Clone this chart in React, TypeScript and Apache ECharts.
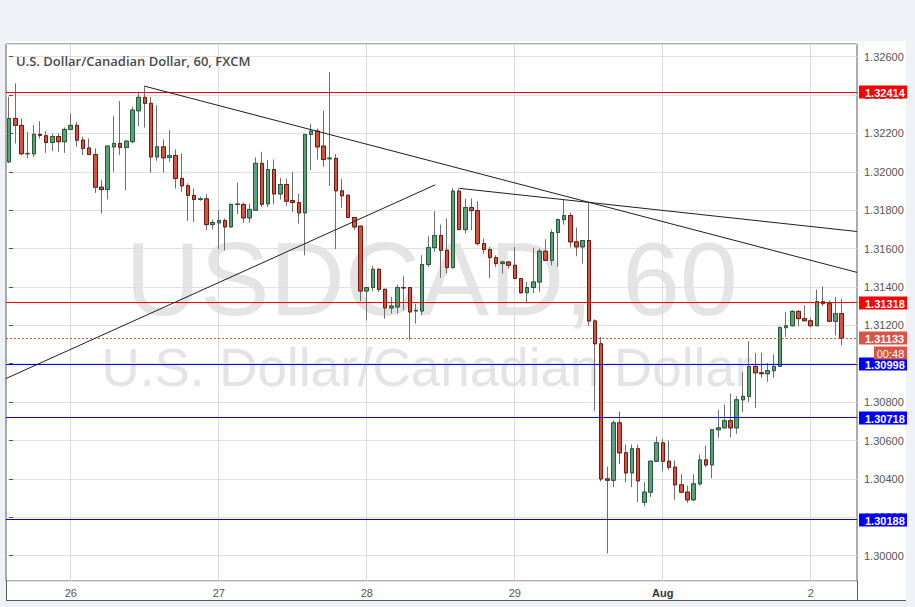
import React, { useEffect, useRef } from "react";
import * as echarts from "echarts";

// ---- data (hourly candles, USDCAD, FXCM) ----
const dayLabels = ["26", "27", "28", "29", "Aug", "2"];
const dayIndex = [10, 34, 58, 82, 106, 130];
const slotCount = 138;

const opens = [
  1.32052, 1.32278, 1.32242, 1.32094, 1.32094, 1.32195, 1.32188, 1.32153, 1.32184, 1.32157,
  1.32221, 1.32242, 1.32165, 1.32124, 1.32090, 1.31920, 1.31908, 1.32130, 1.32148, 1.32127,
  1.32157, 1.32318, 1.32388, 1.32357, 1.32078, 1.32130, 1.32075, 1.32085, 1.31965, 1.31927,
  1.31877, 1.31856, 1.31859, 1.31725, 1.31734, 1.31746, 1.31713, 1.31830, 1.31830, 1.31760,
  1.31800, 1.32044, 1.31833, 1.32012, 1.31885, 1.31934, 1.31850, 1.31840, 1.31786, 1.32195,
  1.32212, 1.32134, 1.32068, 1.32070, 1.31901, 1.31878, 1.31762, 1.31717, 1.31379, 1.31397,
  1.31492, 1.31388, 1.31291, 1.31296, 1.31397, 1.31397, 1.31275, 1.31275, 1.31517, 1.31605,
  1.31668, 1.31591, 1.31501, 1.31899, 1.31699, 1.31814, 1.31798, 1.31626, 1.31595, 1.31553,
  1.31522, 1.31530, 1.31513, 1.31444, 1.31370, 1.31397, 1.31426, 1.31586, 1.31539, 1.31684,
  1.31751, 1.31772, 1.31635, 1.31609, 1.31642, 1.31223, 1.31104, 1.30400, 1.30393, 1.30692,
  1.30536, 1.30431, 1.30557, 1.30278, 1.30331, 1.30492, 1.30588, 1.30492, 1.30461, 1.30369,
  1.30331, 1.30291, 1.30374, 1.30499, 1.30473, 1.30656, 1.30666, 1.30703, 1.30666, 1.30812,
  1.30830, 1.30986, 1.30953, 1.30948, 1.30964, 1.30986, 1.31188, 1.31198, 1.31273, 1.31235,
  1.31224, 1.31198, 1.31323, 1.31313, 1.31221, 1.31261,
];
const closes = [
  1.32278, 1.32242, 1.32094, 1.32096, 1.32195, 1.32190, 1.32153, 1.32184, 1.32157, 1.32221,
  1.32242, 1.32165, 1.32122, 1.32090, 1.31920, 1.31908, 1.32134, 1.32148, 1.32127, 1.32160,
  1.32322, 1.32388, 1.32357, 1.32078, 1.32130, 1.32073, 1.32085, 1.31965, 1.31927, 1.31877,
  1.31856, 1.31859, 1.31725, 1.31736, 1.31746, 1.31713, 1.31830, 1.31832, 1.31760, 1.31804,
  1.32044, 1.31831, 1.32012, 1.31885, 1.31934, 1.31847, 1.31840, 1.31786, 1.32195, 1.32212,
  1.32130, 1.32064, 1.32072, 1.31901, 1.31875, 1.31762, 1.31713, 1.31379, 1.31397, 1.31492,
  1.31388, 1.31291, 1.31301, 1.31397, 1.31395, 1.31270, 1.31278, 1.31517, 1.31605, 1.31668,
  1.31591, 1.31501, 1.31899, 1.31699, 1.31814, 1.31798, 1.31626, 1.31595, 1.31553, 1.31522,
  1.31530, 1.31513, 1.31444, 1.31370, 1.31397, 1.31426, 1.31586, 1.31539, 1.31684, 1.31751,
  1.31772, 1.31635, 1.31609, 1.31642, 1.31223, 1.31104, 1.30400, 1.30393, 1.30692, 1.30536,
  1.30431, 1.30557, 1.30390, 1.30331, 1.30492, 1.30588, 1.30492, 1.30461, 1.30369, 1.30331,
  1.30291, 1.30374, 1.30499, 1.30473, 1.30656, 1.30666, 1.30703, 1.30666, 1.30812, 1.30830,
  1.30986, 1.30953, 1.30948, 1.30964, 1.30986, 1.31188, 1.31198, 1.31273, 1.31235, 1.31224,
  1.31198, 1.31323, 1.31313, 1.31221, 1.31261, 1.31133,
];
const lows = [
  1.32045, 1.32148, 1.32087, 1.32070, 1.32078, 1.32174, 1.32099, 1.32108, 1.32104, 1.32099,
  1.32221, 1.32130, 1.32087, 1.32090, 1.31890, 1.31783, 1.31856, 1.32000, 1.32087, 1.31904,
  1.32148, 1.32238, 1.32231, 1.31995, 1.32057, 1.31995, 1.32052, 1.31913, 1.31896, 1.31744,
  1.31739, 1.31849, 1.31696, 1.31699, 1.31597, 1.31591, 1.31710, 1.31779, 1.31734, 1.31734,
  1.31797, 1.31817, 1.31817, 1.31831, 1.31856, 1.31823, 1.31791, 1.31731, 1.31565, 1.32009,
  1.32064, 1.32026, 1.31927, 1.31597, 1.31812, 1.31760, 1.31696, 1.31327, 1.31226, 1.31379,
  1.31374, 1.31235, 1.31261, 1.31261, 1.31278, 1.31125, 1.31209, 1.31252, 1.31504, 1.31583,
  1.31447, 1.31470, 1.31496, 1.31696, 1.31678, 1.31696, 1.31617, 1.31574, 1.31447, 1.31504,
  1.31470, 1.31496, 1.31440, 1.31365, 1.31318, 1.31369, 1.31374, 1.31536, 1.31513, 1.31504,
  1.31725, 1.31605, 1.31560, 1.31522, 1.31197, 1.30753, 1.30386, 1.30012, 1.30357, 1.30478,
  1.30383, 1.30357, 1.30278, 1.30256, 1.30305, 1.30487, 1.30440, 1.30447, 1.30291, 1.30325,
  1.30275, 1.30284, 1.30365, 1.30461, 1.30404, 1.30614, 1.30666, 1.30617, 1.30635, 1.30748,
  1.30800, 1.30770, 1.30927, 1.30906, 1.30927, 1.30983, 1.31139, 1.31195, 1.31195, 1.31224,
  1.31191, 1.31198, 1.31301, 1.31221, 1.31148, 1.31096,
];
const highs = [
  1.32391, 1.32461, 1.32278, 1.32209, 1.32243, 1.32264, 1.32212, 1.32200, 1.32200, 1.32231,
  1.32304, 1.32259, 1.32183, 1.32174, 1.32122, 1.31957, 1.32137, 1.32290, 1.32369, 1.32165,
  1.32339, 1.32412, 1.32443, 1.32391, 1.32348, 1.32169, 1.32217, 1.32117, 1.32096, 1.31939,
  1.31913, 1.31870, 1.31884, 1.31751, 1.31800, 1.31757, 1.31835, 1.31944, 1.31840, 1.31835,
  1.32075, 1.32104, 1.32061, 1.32064, 1.31969, 1.31965, 1.32000, 1.31887, 1.32197, 1.32249,
  1.32226, 1.32318, 1.32520, 1.32092, 1.31962, 1.31878, 1.31765, 1.31717, 1.31399, 1.31510,
  1.31496, 1.31390, 1.31348, 1.31412, 1.31456, 1.31400, 1.31313, 1.31565, 1.31664, 1.31795,
  1.31725, 1.31757, 1.31913, 1.31913, 1.31861, 1.31861, 1.31847, 1.31652, 1.31609, 1.31565,
  1.31536, 1.31536, 1.31609, 1.31444, 1.31426, 1.31605, 1.31600, 1.31649, 1.31699, 1.31757,
  1.31856, 1.31788, 1.31710, 1.31642, 1.31838, 1.31231, 1.31139, 1.30464, 1.30704, 1.30751,
  1.30579, 1.30579, 1.30579, 1.30383, 1.30496, 1.30621, 1.30609, 1.30600, 1.30496, 1.30426,
  1.30365, 1.30426, 1.30527, 1.30574, 1.30661, 1.30760, 1.30788, 1.30844, 1.30830, 1.30957,
  1.31118, 1.31056, 1.31056, 1.31004, 1.31049, 1.31195, 1.31270, 1.31278, 1.31278, 1.31304,
  1.31240, 1.31386, 1.31403, 1.31330, 1.31348, 1.31339,
];

const levelValues = [1.32414, 1.31318, 1.30998, 1.30718, 1.30188];
const levelColors = ["#ff0000", "#ff0000", "#0000ff", "#0000ff", "#0000ff"];
const lastPrice = 1.31133;
const countdown = "00:48";

// trend lines: [bar index, price] pairs
const trendLines = [
  [[21.9, 1.32447], [137.5, 1.31476]],
  [[-0.5, 1.30923], [69.1, 1.31932]],
  [[73.0, 1.31914], [137.5, 1.31689]],
];

const yMin = 1.29868;
const yMax = 1.32666;

const SANS = '"Liberation Sans", Arial, sans-serif';

export default function App() {
  const ref = useRef<HTMLDivElement>(null);

  useEffect(() => {
    if (!ref.current) return;
    const chart = echarts.init(ref.current, undefined, { renderer: "svg" });

    const categories = Array.from({ length: slotCount }, (_, i) => String(i));
    const ohlc = opens.map((o, i) => [o, closes[i], lows[i], highs[i]]);
    const bodies = opens.map((o, i) => [
      o,
      closes[i],
      Math.min(o, closes[i]),
      Math.max(o, closes[i]),
    ]);
    const xLo = -0.5;
    const xHi = slotCount - 0.5;

    const upFill = "#5e9e78";
    const downFill = "#d75040";
    const upBorder = "#225c38";
    const downBorder = "#6e1c12";
    const wick = "#6f6f6f";
    const gridColor = "#e1e1e1";
    const dayGridColor = "#dadada";
    const frame = "#5a5a5a";
    const lastColor = "#d95446";

    const option: any = {
      animation: false,
      backgroundColor: "transparent",
      grid: {
        left: 6,
        top: 44,
        width: 851,
        height: 537,
        show: true,
        borderColor: frame,
        borderWidth: 1,
        backgroundColor: "transparent",
      },
      xAxis: [
        {
          type: "category",
          data: categories,
          boundaryGap: true,
          axisLine: { show: false },
          axisTick: { show: false },
          splitLine: { show: false },
          axisLabel: {
            interval: (i: number) => dayIndex.includes(i),
            formatter: (_v: string, i: number) => {
              const k = dayIndex.indexOf(i);
              if (k < 0) return "";
              return dayLabels[k] === "Aug" ? "{m|Aug}" : dayLabels[k];
            },
            color: "#555",
            fontSize: 11,
            fontFamily: SANS,
            margin: 6,
            rich: {
              m: { fontWeight: "bold", color: "#333", fontSize: 11, fontFamily: SANS },
            },
          },
        },
        { type: "value", min: xLo, max: xHi, show: false },
      ],
      yAxis: {
        type: "value",
        position: "right",
        min: yMin,
        max: yMax,
        splitNumber: 14,
        axisLine: { show: false },
        axisTick: { show: true, length: 4, lineStyle: { color: "#555" } },
        axisLabel: {
          formatter: (v: number) => v.toFixed(5),
          color: "#555",
          fontSize: 11,
          fontFamily: SANS,
          margin: 7,
          showMinLabel: false,
          showMaxLabel: false,
        },
        splitLine: { lineStyle: { color: gridColor, width: 1 } },
      },
      series: [
        {
          type: "candlestick",
          name: "wicks",
          data: ohlc,
          barWidth: 4,
          z: 2,
          silent: true,
          itemStyle: {
            color: upFill,
            color0: downFill,
            borderColor: wick,
            borderColor0: wick,
            borderColorDoji: wick,
            borderWidth: 1,
          },
        },
        {
          type: "candlestick",
          name: "bodies",
          data: bodies,
          barWidth: 4,
          z: 3,
          silent: true,
          itemStyle: {
            color: upFill,
            color0: downFill,
            borderColor: upBorder,
            borderColor0: downBorder,
            borderColorDoji: downBorder,
            borderWidth: 1,
          },
        },
        ...trendLines.map((pts) => ({
          type: "line",
          xAxisIndex: 1,
          yAxisIndex: 0,
          data: pts,
          symbol: "none",
          silent: true,
          z: 6,
          lineStyle: { color: "#1e1e1e", width: 1 },
        })),
      ],
    };

    chart.setOption(option);

    // positions from the chart's own scales
    const toY = (v: number) =>
      chart.convertToPixel({ yAxisIndex: 0 } as any, v) as number;
    const toX = (i: number) =>
      chart.convertToPixel({ xAxisIndex: 0 } as any, i) as number;
    const crisp = (p: number) => Math.round(p - 0.5) + 0.5;

    const band = toX(1) - toX(0);
    const plotLeft = toX(0) - band / 2;
    const plotRight = plotLeft + band * slotCount;
    const plotTop = toY(yMax);
    const plotBottom = toY(yMin);

    const dayGrid = dayIndex.map((i) => ({
      type: "line",
      z: 1,
      silent: true,
      shape: {
        x1: crisp(toX(i)),
        y1: plotTop,
        x2: crisp(toX(i)),
        y2: plotBottom,
      },
      style: { stroke: dayGridColor, lineWidth: 1 },
    }));

    const levelLine = (v: number, color: string, dash?: number[]) => ({
      type: "line",
      z: 5,
      silent: true,
      shape: { x1: plotLeft, y1: crisp(toY(v)), x2: plotRight, y2: crisp(toY(v)) },
      style: { stroke: color, lineWidth: 1, lineDash: dash || null },
    });

    const priceTag = (v: number, color: string) => ({
      type: "group",
      z: 20,
      silent: true,
      x: 859,
      y: Math.round(toY(v)) - 6.5,
      children: [
        {
          type: "rect",
          z: 20,
          shape: { x: 0, y: 0, width: 48, height: 13 },
          style: { fill: color },
        },
        {
          type: "text",
          z: 21,
          x: 6,
          y: 7,
          style: {
            text: v.toFixed(5),
            fill: "#ffffff",
            fontSize: 11,
            fontWeight: "bold",
            fontFamily: SANS,
            verticalAlign: "middle",
            textVerticalAlign: "middle",
          },
        },
      ],
    });

    const yLast = Math.round(toY(lastPrice));

    chart.setOption({
      graphic: [
        {
          type: "text",
          z: -5,
          silent: true,
          x: 431.5,
          y: 279,
          style: {
            text: "USDCAD, 60",
            fontSize: 104,
            fontFamily: SANS,
            fill: "#e4e4e4",
            align: "center",
            verticalAlign: "middle",
            textAlign: "center",
            textVerticalAlign: "middle",
          },
        },
        {
          type: "text",
          z: -5,
          silent: true,
          x: 427,
          y: 367,
          style: {
            text: "U.S. Dollar/Canadian Dollar",
            fontSize: 53,
            fontFamily: SANS,
            fill: "#e4e4e4",
            align: "center",
            verticalAlign: "middle",
            textAlign: "center",
            textVerticalAlign: "middle",
          },
        },
        ...dayGrid,
        ...levelValues.map((v, i) => levelLine(v, levelColors[i])),
        levelLine(lastPrice, "#e0533f", [2, 2]),
        {
          type: "text",
          z: 10,
          silent: true,
          x: 16,
          y: 61,
          style: {
            text: "U.S. Dollar/Canadian Dollar, 60, FXCM",
            fontSize: 13,
            fontWeight: 600,
            fontFamily: '"Open Sans", sans-serif',
            fill: "#4a4a4a",
            verticalAlign: "middle",
            textVerticalAlign: "middle",
          },
        },
        {
          type: "line",
          z: 10,
          silent: true,
          shape: { x1: 6.5, y1: 581, x2: 6.5, y2: 601 },
          style: { stroke: frame, lineWidth: 1 },
        },
        {
          type: "line",
          z: 10,
          silent: true,
          shape: { x1: 857.5, y1: 581, x2: 857.5, y2: 601 },
          style: { stroke: frame, lineWidth: 1 },
        },
        {
          type: "line",
          z: 10,
          silent: true,
          shape: { x1: 6, y1: 600.5, x2: 906, y2: 600.5 },
          style: { stroke: frame, lineWidth: 1 },
        },
        ...levelValues.map((v, i) => priceTag(v, levelColors[i])),
        priceTag(lastPrice, lastColor),
        {
          type: "group",
          z: 20,
          silent: true,
          x: 874,
          y: yLast + 8.5,
          children: [
            {
              type: "rect",
              z: 20,
              shape: { x: 0, y: 0, width: 33, height: 13 },
              style: { fill: lastColor },
            },
            {
              type: "text",
              z: 21,
              x: 16.5,
              y: 7,
              style: {
                text: countdown,
                fill: "#ffffff",
                fontSize: 11,
                fontFamily: SANS,
                align: "center",
                verticalAlign: "middle",
                textAlign: "center",
                textVerticalAlign: "middle",
              },
            },
          ],
        },
      ],
    });

    return () => {
      chart.dispose();
    };
  }, []);

  return (
    <div
      style={{
        position: "fixed",
        left: 0,
        top: 0,
        width: 915,
        height: 607,
        background: "#eef1f6",
      }}
    >
      <div
        style={{
          position: "absolute",
          left: 6,
          top: 41,
          width: 900,
          height: 560,
          background: "#ffffff",
        }}
      />
      <div
        ref={ref}
        style={{ position: "absolute", left: 0, top: 0, width: 915, height: 607 }}
      />
    </div>
  );
}
